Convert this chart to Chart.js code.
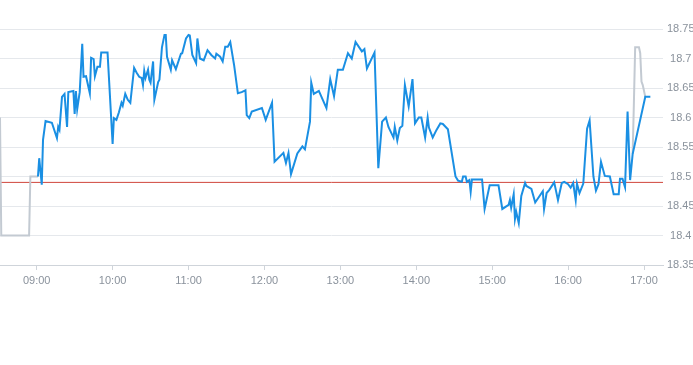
<!DOCTYPE html>
<html><head><meta charset="utf-8">
<script src="https://cdn.jsdelivr.net/npm/chart.js@4.4.1/dist/chart.umd.min.js"></script>
<style>html,body{margin:0;padding:0;background:#fff;}#wrap{width:693px;height:365px;position:relative;}</style>
</head><body><div id="wrap"><canvas id="c"></canvas></div>
<script>
const xTickLabels = ['09:00','10:00','11:00','12:00','13:00','14:00','15:00','16:00','17:00'];
const yTicks = [18.35,18.40,18.45,18.50,18.55,18.60,18.65,18.70,18.75];
const xStart = '08:31';
const xEnd = '17:15';
const previousClose = 18.49;

const preTimes = ['08:31','08:32','08:54','08:55','09:01'];
const prePrices = [18.60,18.40,18.40,18.50,18.50];

const regularTimes = [
'09:01','09:02','09:04','09:05','09:07','09:12','09:16','09:17','09:18','09:20',
'09:22','09:24','09:25','09:29','09:30','09:31','09:32','09:34','09:36','09:37',
'09:39','09:42','09:43','09:45','09:46','09:48','09:50','09:51','09:56','10:00',
'10:01','10:03','10:05','10:07','10:08','10:10','10:12','10:14','10:17','10:19',
'10:21','10:23','10:24','10:25','10:26','10:28','10:29','10:30','10:32','10:33',
'10:36','10:37','10:39','10:41','10:42','10:43','10:46','10:47','10:50','10:54',
'10:55','10:58','11:00','11:01','11:03','11:06','11:07','11:09','11:12','11:15',
'11:18','11:21','11:22','11:25','11:27','11:29','11:31','11:33','11:36','11:39',
'11:42','11:45','11:46','11:48','11:50','11:58','12:01','12:06','12:08','12:15',
'12:17','12:19','12:21','12:26','12:30','12:32','12:36','12:37','12:39','12:43',
'12:49','12:52','12:55','12:58','13:02','13:06','13:09','13:12','13:17','13:19',
'13:21','13:27','13:30','13:33','13:36','13:38','13:42','13:43','13:45','13:47',
'13:49','13:51','13:54','13:57','13:59','14:02','14:04','14:07','14:09','14:10',
'14:13','14:16','14:19','14:21','14:25','14:31','14:33','14:36','14:37','14:39',
'14:40','14:42','14:43','14:44','14:52','14:54','14:58','15:05','15:08','15:13',
'15:14','15:15','15:17','15:18','15:19','15:21','15:23','15:26','15:27','15:31',
'15:34','15:40','15:41','15:43','15:45','15:49','15:52','15:55','15:57','16:00',
'16:02','16:04','16:06','16:07','16:09','16:12','16:15','16:17','16:20','16:22',
'16:24','16:26','16:29','16:33','16:36','16:40','16:41','16:43','16:45','16:47',
'16:49','16:51','17:01','17:05'];
const regularPrices = [
18.500,18.531,18.486,18.562,18.594,18.591,18.565,18.584,18.579,18.635,
18.640,18.584,18.643,18.645,18.606,18.645,18.614,18.643,18.725,18.669,
18.670,18.641,18.701,18.699,18.670,18.686,18.686,18.710,18.710,18.555,
18.599,18.596,18.609,18.625,18.620,18.640,18.630,18.625,18.684,18.676,
18.669,18.667,18.655,18.679,18.667,18.681,18.664,18.659,18.695,18.630,
18.660,18.664,18.719,18.740,18.740,18.703,18.681,18.697,18.682,18.708,
18.709,18.734,18.740,18.739,18.706,18.692,18.734,18.700,18.697,18.714,
18.706,18.700,18.708,18.703,18.695,18.720,18.720,18.728,18.689,18.641,
18.643,18.646,18.604,18.599,18.610,18.616,18.596,18.625,18.525,18.540,
18.523,18.540,18.504,18.539,18.551,18.546,18.593,18.659,18.640,18.645,
18.616,18.665,18.636,18.681,18.681,18.709,18.700,18.728,18.712,18.716,
18.683,18.710,18.514,18.593,18.600,18.584,18.566,18.584,18.561,18.582,
18.586,18.655,18.619,18.665,18.590,18.600,18.600,18.566,18.600,18.583,
18.566,18.579,18.590,18.589,18.580,18.500,18.493,18.491,18.500,18.500,
18.491,18.494,18.474,18.495,18.495,18.445,18.485,18.485,18.445,18.452,
18.460,18.447,18.470,18.428,18.440,18.421,18.467,18.489,18.484,18.479,
18.456,18.475,18.445,18.472,18.477,18.490,18.460,18.489,18.491,18.487,
18.481,18.489,18.460,18.488,18.472,18.488,18.581,18.595,18.500,18.476,
18.487,18.525,18.501,18.500,18.470,18.470,18.496,18.496,18.482,18.610,
18.494,18.538,18.635,18.635];

const postTimes = ['16:51','16:52','16:53','16:56','16:57','16:58','16:59','17:01'];
const postPrices = [18.538,18.625,18.719,18.719,18.709,18.661,18.655,18.635];

function toMin(s){const p=s.split(':').map(Number);return p[0]*60+p[1];}
function fmtMin(v){const h=Math.floor(v/60),m=Math.round(v-h*60);return String(h).padStart(2,'0')+':'+String(m).padStart(2,'0');}
function pts(ts,ps){return ts.map((t,i)=>({x:toMin(t),y:ps[i]}));}

const labelColor = '#8a929c';
const font = {family:'"Liberation Sans", Arial, sans-serif', size:11};

new Chart(document.getElementById('c'), {
  type:'line',
  data:{datasets:[
    {data:pts(regularTimes,regularPrices), borderColor:'#1a8fe3', borderWidth:2, pointRadius:0, tension:0, order:0},
    {data:pts(preTimes,prePrices), borderColor:'#c3cad2', borderWidth:2, pointRadius:0, tension:0, order:1},
    {data:pts(postTimes,postPrices), borderColor:'#c3cad2', borderWidth:2, pointRadius:0, tension:0, order:1},
    {data:[{x:toMin(xStart),y:previousClose},{x:toMin(xEnd),y:previousClose}], borderColor:'#d0463c', borderWidth:1, pointRadius:0, tension:0, order:2}
  ]},
  options:{
    responsive:true, maintainAspectRatio:false, animation:false,
    events:[],
    layout:{padding:{top:29,right:0,bottom:75,left:0}},
    plugins:{legend:{display:false}, tooltip:{enabled:false}},
    scales:{
      x:{type:'linear', min:toMin(xStart), max:toMin(xEnd),
        afterBuildTicks:s=>{s.ticks=xTickLabels.map(l=>({value:toMin(l)}));},
        afterFit:s=>{s.height=25;},
        ticks:{callback:v=>fmtMin(v), color:labelColor, font:font, padding:4, maxRotation:0, autoSkip:false},
        grid:{drawOnChartArea:false, drawTicks:true, tickLength:5, color:'#cfd4da'},
        border:{color:'#cfd4da'}
      },
      y:{position:'right', min:18.35, max:18.75,
        afterBuildTicks:s=>{s.ticks=yTicks.map(v=>({value:v}));},
        afterFit:s=>{s.width=30;},
        ticks:{callback:v=>String(parseFloat(Number(v).toFixed(2))), crossAlign:'center', padding:4, color:labelColor, font:font},
        grid:{color:'#e5e8ec', drawTicks:false},
        border:{display:false}
      }
    }
  }
});
</script></body></html>
